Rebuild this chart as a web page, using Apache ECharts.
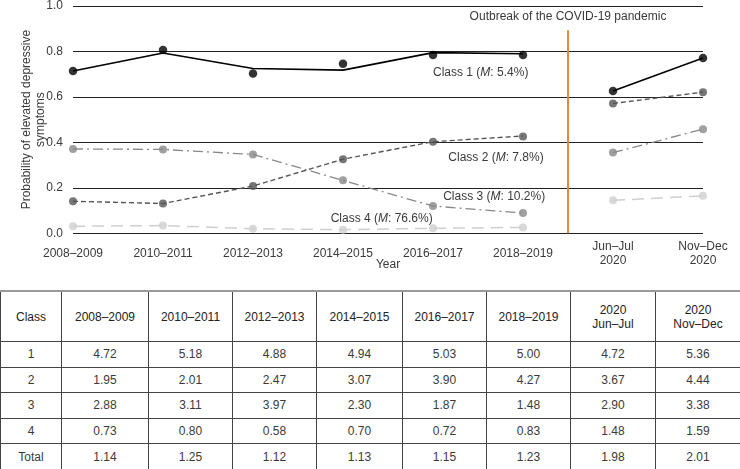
<!DOCTYPE html>
<html><head><meta charset="utf-8">
<script src="https://cdn.jsdelivr.net/npm/echarts@6/dist/echarts.min.js"></script>
<style>
body{margin:0;background:#fff;}
#chart{position:absolute;left:0;top:0;width:740px;height:290px;}
#tbl{position:absolute;left:0;top:290px;border-collapse:collapse;font-family:"Liberation Sans",Arial,sans-serif;font-size:12px;color:#3a3a3a;table-layout:fixed;width:740px;}
#tbl td,#tbl th{border:1px solid #444;text-align:center;padding:0;font-weight:normal;line-height:14px;}
#tbl tr.head th{height:49px;border-top:2px solid #999;color:#222;}
#tbl tr.body td{height:24.6px;}
</style></head>
<body>
<div id="chart"></div>
<table id="tbl"></table>
<script>
// ---- data ----
const periods = ['2008–2009','2010–2011','2012–2013','2014–2015','2016–2017','2018–2019','Jun–Jul\n2020','Nov–Dec\n2020'];
const yTicks = [0, 0.2, 0.4, 0.6, 0.8, 1.0];
const class1Est = [0.714, 0.793, 0.725, 0.718, 0.795, 0.790, 0.626, 0.771];
const class1Obs = [0.714, 0.806, 0.703, 0.746, 0.784, 0.784, 0.626, 0.771];
const class2Est = [0.141, 0.131, 0.208, 0.326, 0.403, 0.428, 0.571, 0.621];
const class2Obs = [0.141, 0.131, 0.208, 0.326, 0.403, 0.426, 0.571, 0.621];
const class3Est = [0.371, 0.369, 0.347, 0.233, 0.120, 0.089, 0.355, 0.458];
const class3Obs = [0.371, 0.369, 0.347, 0.233, 0.120, 0.089, 0.355, 0.458];
const class4Est = [0.031, 0.034, 0.020, 0.016, 0.022, 0.026, 0.145, 0.165];
const class4Obs = [0.031, 0.034, 0.020, 0.016, 0.022, 0.026, 0.145, 0.165];
const classNames = ['Class 1', 'Class 2', 'Class 3', 'Class 4'];
const classShares = ['5.4%', '7.8%', '10.2%', '76.6%'];
const pandemicLabel = 'Outbreak of the COVID-19 pandemic';

const tableHeaders = ['Class','2008–2009','2010–2011','2012–2013','2014–2015','2016–2017','2018–2019','2020<br>Jun–Jul','2020<br>Nov–Dec'];
const tableRowLabels = ['1','2','3','4','Total'];
const tableClass1 = ['4.72','5.18','4.88','4.94','5.03','5.00','4.72','5.36'];
const tableClass2 = ['1.95','2.01','2.47','3.07','3.90','4.27','3.67','4.44'];
const tableClass3 = ['2.88','3.11','3.97','2.30','1.87','1.48','2.90','3.38'];
const tableClass4 = ['0.73','0.80','0.58','0.70','0.72','0.83','1.48','1.59'];
const tableTotal  = ['1.14','1.25','1.12','1.13','1.15','1.23','1.98','2.01'];

// ---- chart ----
const FONT = '"Liberation Sans", Arial, sans-serif';
const TXT = '#3a3a3a';
const pre = [0,1,2,3,4,5], post = [6,7];
function pts(arr, idx){ return idx.map(i => [i, arr[i]]); }

const styles = [
  {color:'#000', dash:'solid', w:1.6, sym:8.5},
  {color:'#555', dash:[5,3], w:1.4, sym:8},
  {color:'#888', dash:[10,4,2,4], w:1.3, sym:8},
  {color:'#cfcfcf', dash:[12,7], w:1.5, sym:8}
];
const est = [class1Est, class2Est, class3Est, class4Est];
const obs = [class1Obs, class2Obs, class3Obs, class4Obs];
const labelPos = [[4.53,0.705],[4.70,0.331],[4.68,0.161],[3.43,0.063]];

const series = [];
est.forEach((arr, k) => {
  [pre, post].forEach((idx, j) => {
    const s = {
      type:'line', data: pts(arr, idx), showSymbol:false, symbol:'none',
      lineStyle:{color:styles[k].color, width:styles[k].w, type:styles[k].dash},
      silent:true, z:2, animation:false
    };
    if (j === 0) {
      s.markPoint = {
        symbol:'circle', symbolSize:1, itemStyle:{color:'rgba(0,0,0,0)'}, animation:false,
        data:[{coord:labelPos[k], value:0}],
        label:{show:true, position:'inside', color:TXT, fontFamily:FONT, fontSize:12,
          formatter: classNames[k] + ' ({i|M}: ' + classShares[k] + ')',
          rich:{i:{fontStyle:'italic', fontFamily:FONT, fontSize:12, color:TXT}}}
      };
    }
    series.push(s);
  });
});
obs.forEach((arr, k) => {
  series.push({
    type:'scatter', data: pts(arr, [0,1,2,3,4,5,6,7]), symbol:'circle', symbolSize:styles[k].sym,
    itemStyle:{color:styles[k].color}, z:3, animation:false, silent:true
  });
});
series.push({
  type:'line', data:[], silent:true, animation:false,
  markLine:{symbol:'none', silent:true, animation:false, label:{show:false},
    lineStyle:{color:'#E8883A', width:2, type:'solid'},
    data:[[{coord:[5.5,0]},{coord:[5.5,0.893]}]]},
  markPoint:{symbol:'circle', symbolSize:1, itemStyle:{color:'rgba(0,0,0,0)'}, animation:false,
    data:[{coord:[5.5,0.955], value:0}],
    label:{show:true, position:'inside', color:TXT, fontFamily:FONT, fontSize:12, formatter:pandemicLabel}}
});

const chart = echarts.init(document.getElementById('chart'), null, {renderer:'canvas'});
chart.setOption({
  animation:false,
  grid:{left:73, right:37, top:6, height:227.3, containLabel:false, outerBoundsMode:'none'},
  xAxis:{type:'value', min:0, max:7, interval:1,
    name:'Year', nameLocation:'middle', nameGap:25, nameMoveOverlap:false,
    nameTextStyle:{color:TXT, fontFamily:FONT, fontSize:12},
    axisLine:{show:false}, axisTick:{show:false}, splitLine:{show:false},
    axisLabel:{color:TXT, fontFamily:FONT, fontSize:12, margin:20, lineHeight:14, verticalAlign:'middle',
      formatter:v => periods[v] || ''}},
  yAxis:{type:'value', min:0, max:1, interval:0.2,
    name:'Probability of elevated depressive\nsymptoms', nameLocation:'middle', nameGap:25, nameMoveOverlap:false,
    nameTextStyle:{color:TXT, fontFamily:FONT, fontSize:12, lineHeight:14},
    axisLine:{show:false}, axisTick:{show:false},
    splitLine:{show:true, lineStyle:{color:'#222', width:1}},
    axisLabel:{color:TXT, fontFamily:FONT, fontSize:12, margin:10, formatter:v => v.toFixed(1)}},
  series:series
});

// ---- table ----
const widths = [61,87,84,84,86,84,84,85,85];
const rows = [tableClass1, tableClass2, tableClass3, tableClass4, tableTotal];
let html = '<colgroup>' + widths.map(w => '<col style="width:'+w+'px">').join('') + '</colgroup>';
html += '<tr class="head">' + tableHeaders.map(h => '<th>'+h+'</th>').join('') + '</tr>';
rows.forEach((r, i) => {
  html += '<tr class="body"><td>' + tableRowLabels[i] + '</td>' + r.map(v => '<td>'+v+'</td>').join('') + '</tr>';
});
document.getElementById('tbl').innerHTML = html;
</script>
</body></html>
